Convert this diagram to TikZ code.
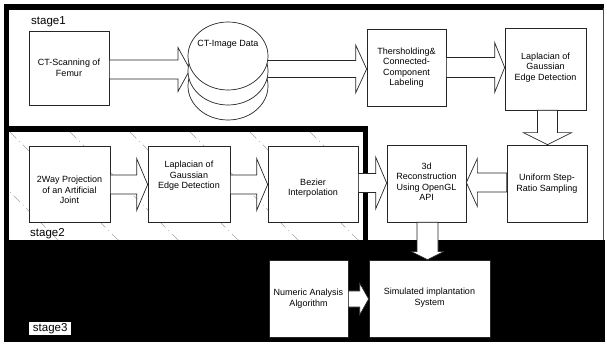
\documentclass[tikz,border=0pt]{standalone}
\usepackage{fontspec}
\setmainfont{Liberation Sans}
\usetikzlibrary{calc,shapes.geometric}
\tikzset{
  box/.style={draw=black!85, line width=0.7pt, fill=white, inner sep=0pt},
  lbl/.style={align=center, font=\fontsize{9}{10.5}\selectfont, inner sep=0pt},
  barrow/.style={draw=black!85, line width=0.7pt, fill=white, line join=miter},
  stagelbl/.style={font=\fontsize{11.5}{13}\selectfont, inner sep=0pt, anchor=west},
  hatch/.style={draw=black!35, line width=0.4pt, dash pattern=on 9pt off 4pt on 1pt off 4pt},
  disc/.style={ellipse, draw=black!85, line width=0.7pt, fill=white, minimum width=80pt, minimum height=68pt, inner sep=0pt},
}
\newcommand\blockarrow[6]{%
  \coordinate (#1s) at #2;
  \coordinate (#1t) at #3;
  \coordinate (#1b) at ($(#1t)!#6!(#1s)$);
  \filldraw[barrow] ($(#1s)!#4!90:(#1t)$) -- ($(#1b)!#4!90:(#1t)$) -- ($(#1b)!#5!90:(#1t)$) -- (#1t)
    -- ($(#1b)!#5!-90:(#1t)$) -- ($(#1b)!#4!-90:(#1t)$) -- ($(#1s)!#4!-90:(#1t)$) -- cycle;
}
\begin{document}
\begin{tikzpicture}[x=1pt,y=-1pt]
\useasboundingbox (0,0) rectangle (607,344);
% stage 3 background
\fill[black] (4,240) rectangle (605,342);
% stage 1 frame
\fill[black] (4,4) rectangle (604,10);
\fill[black] (4,4) rectangle (9,342);
\draw[black!70, line width=0.8pt] (603,8) -- (603,240);
% stage 2 hatch and frame
\begin{scope}
  \clip (9,132) rectangle (363,240);
  \foreach \x in {-110,-50,...,350} \draw[hatch] (\x,132) -- ++(115,115);
\end{scope}
\fill[black] (4,126) rectangle (368,132);
\fill[black] (363,126) rectangle (368,242);

% stage labels
\node[stagelbl] (s1) at (31,22) {stage1};
\node[stagelbl] (s2) at (30,234) {stage2};
\node[stagelbl, fill=white, inner xsep=1pt, inner ysep=1pt, minimum width=42pt, minimum height=13pt] (s3) at (29,328.5) {stage3};

% stage 1 boxes
\node[box, minimum width=80pt, minimum height=74pt] (ct) at (69,68) {};
\node[lbl] (ctt) at (ct) {CT-Scanning of\\Femur};
\node[box, minimum width=79pt, minimum height=77pt] (thr) at (406.5,67.5) {};
\node[lbl] (thrt) at (thr) {Thersholding\&\\Connected-\\Component\\Labeling};
\node[box, minimum width=81pt, minimum height=82pt] (lap1) at (545.5,69) {};
\node[lbl] (lap1t) at ($(lap1)+(0,-1.5)$) {Laplacian of\\Gaussian\\Edge Detection};
\node[box, minimum width=80pt, minimum height=77pt] (unif) at (547,183.5) {};
\node[lbl] (unift) at (unif) {Uniform Step-\\Ratio Sampling};
\node[box, minimum width=79pt, minimum height=77pt] (recon) at (426.5,183.5) {};
\node[lbl] (recont) at ($(recon)+(0,-2)$) {3d\\Reconstruction\\Using OpenGL\\API};

% stage 2 boxes
\node[box, minimum width=81pt, minimum height=76pt] (way) at (69.5,184) {};
\node[lbl] (wayt) at ($(way)+(0,6)$) {2Way Projection\\of an Artificial\\Joint};
\node[box, minimum width=82pt, minimum height=76pt] (lap2) at (189,184) {};
\node[lbl] (lap2t) at ($(lap2)+(0,-8)$) {Laplacian of\\Gaussian\\Edge Detection};
\node[box, minimum width=90pt, minimum height=76pt] (bez) at (313,184) {};
\node[lbl] (bezt) at ($(bez)+(0,4)$) {Bezier\\Interpolation};

% stage 3 boxes
\node[box, minimum width=79pt, minimum height=77pt] (num) at (308.5,298.5) {};
\node[lbl] (numt) at (num) {Numeric Analysis\\Algorithm};
\node[box, minimum width=121pt, minimum height=77pt] (sim) at (429.5,298.5) {};
\node[lbl] (simt) at ($(sim)+(0,-1)$) {Simulated implantation\\System};

% cylinder reference point
\coordinate (cyl) at (228,56);

% block arrows
\blockarrow{a1}{($(ct.east)+(0,1.5)$)}{($(cyl)+(-38,13.5)$)}{9.5pt}{22pt}{12pt}
\blockarrow{a2}{($(cyl)+(38,13)$)}{(thr.west |- a2s)}{8.5pt}{24pt}{11pt}
\blockarrow{a3}{(thr.east)}{(lap1.west |- a3s)}{10pt}{25pt}{10pt}
\blockarrow{a4}{($(lap1.south)+(2,0)$)}{(a4s |- unif.north)}{10pt}{24pt}{12pt}
\blockarrow{a5}{($(unif.west)+(0,-1)$)}{(recon.east |- a5s)}{9.5pt}{24pt}{11pt}
\blockarrow{a6}{($(way.east)+(0,0.5)$)}{(lap2.west |- a6s)}{9.5pt}{26pt}{11pt}
\blockarrow{a7}{($(lap2.east)+(0,0.5)$)}{(bez.west |- a7s)}{9.5pt}{26pt}{11pt}
\blockarrow{a8}{($(bez.east)+(0,-1)$)}{(recon.west |- a8s)}{9.5pt}{26pt}{11pt}
\blockarrow{a9}{($(recon.south)+(1,0)$)}{(a9s |- sim.north)}{10.5pt}{16pt}{8pt}
\blockarrow{a10}{($(num.east)+(0,0.5)$)}{(sim.west |- a10s)}{8pt}{16pt}{9pt}

% cylinder (stacked discs)
\node[disc] (img3) at ($(cyl)+(0,30)$) {};
\node[disc] (img2) at ($(cyl)+(0,15)$) {};
\node[disc] (img1) at (cyl) {};
\node[lbl] (imgt) at ($(cyl)+(0,-12)$) {CT-Image Data};
\end{tikzpicture}
\end{document}
